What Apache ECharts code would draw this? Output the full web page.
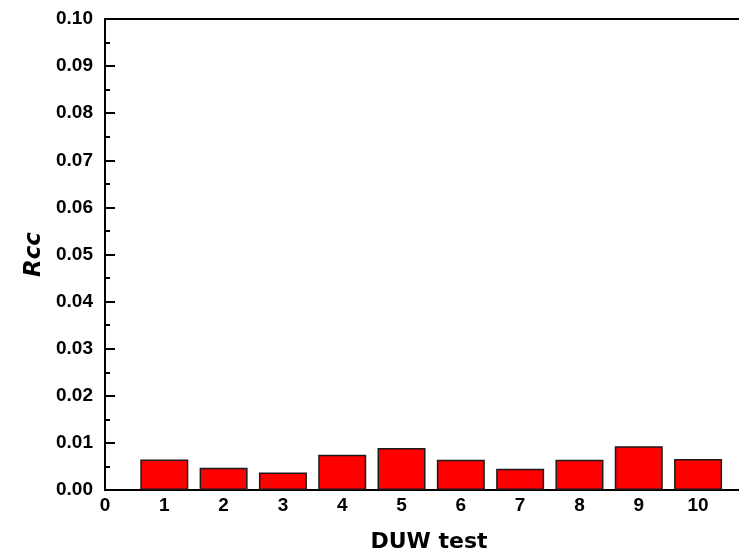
<!DOCTYPE html>
<html><head><meta charset="utf-8">
<script src="https://cdn.jsdelivr.net/npm/echarts@6/dist/echarts.min.js"></script>
<style>html,body{margin:0;padding:0;background:#fff}#c{width:739px;height:553px}</style>
</head><body><div id="c"></div>
<script>
var tests = [1,2,3,4,5,6,7,8,9,10];
var rcc = [0.0065,0.0047,0.0037,0.0075,0.0089,0.0064,0.0045,0.0064,0.0093,0.0066];
var xTitle = 'DUW test';
var yTitle = 'Rcc';

var chart = echarts.init(document.getElementById('c'));
var font = 'Liberation Sans, Arial, sans-serif';
var xMax = 10.69;
chart.setOption({
  animation:false,
  backgroundColor:'#fff',
  grid:{left:105, right:0, top:19, bottom:63, containLabel:false, outerBoundsMode:'none'},
  xAxis:[{
    type:'value', min:0, max:xMax, interval:1,
    name:xTitle, nameLocation:'middle', nameGap:41,
    nameTextStyle:{fontFamily:'DejaVu Sans', fontWeight:'bold', fontSize:22, color:'#000', padding:[0,0,0,14]},
    axisLine:{lineStyle:{color:'#000', width:2}},
    axisTick:{inside:true, length:5, lineStyle:{color:'#000', width:2}},
    axisLabel:{fontFamily:font, fontWeight:'bold', fontSize:19, color:'#000', margin:6,
      showMaxLabel:false,
      formatter:function(v){return (v>10.01)?'':String(Math.round(v));}},
    splitLine:{show:false}
  },{
    type:'value', position:'top', min:0, max:xMax,
    axisLine:{show:true, onZero:false, lineStyle:{color:'#000', width:2}},
    axisTick:{show:false}, axisLabel:{show:false}, splitLine:{show:false}
  }],
  yAxis:{
    type:'value', min:0, max:0.1, interval:0.01,
    name:yTitle, nameLocation:'middle', nameGap:58,
    nameTextStyle:{fontFamily:'DejaVu Sans', fontWeight:'bold', fontStyle:'italic', fontSize:23, color:'#000'},
    axisLine:{show:true, lineStyle:{color:'#000', width:2}},
    axisTick:{inside:true, length:10, lineStyle:{color:'#000', width:2}},
    minorTick:{show:true, splitNumber:2, length:5, lineStyle:{color:'#000', width:2}},
    axisLabel:{fontFamily:font, fontWeight:'bold', fontSize:19, color:'#000', margin:12,
      formatter:function(v){return v.toFixed(2);}},
    splitLine:{show:false}
  },
  series:[{
    type:'bar', xAxisIndex:0,
    data: tests.map(function(t,i){return [t, rcc[i]];}),
    barWidth:48,
    itemStyle:{color:'#ff0000', borderColor:'#1a1a1a', borderWidth:1.5}
  }]
});
</script></body></html>
